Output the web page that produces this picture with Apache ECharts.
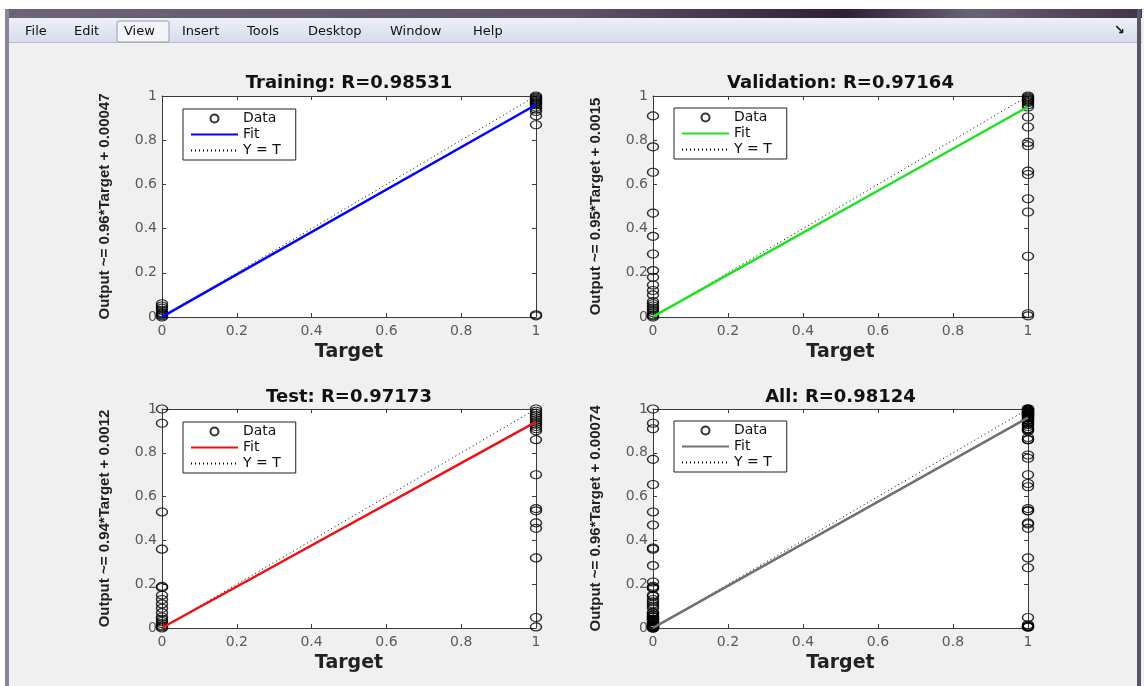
<!DOCTYPE html>
<html>
<head>
<meta charset="utf-8">
<script src="https://cdn.jsdelivr.net/npm/echarts@6/dist/echarts.min.js"></script>
<style>
html,body{margin:0;padding:0;background:#f0f0f0;}
#c{width:1144px;height:686px;}
</style>
</head>
<body>
<div id="c"></div>
<script>
// ---- data ----
const titles = ['Training: R=0.98531', 'Validation: R=0.97164', 'Test: R=0.97173', 'All: R=0.98124'];
const yNames = ['Output ~= 0.96*Target + 0.00047', 'Output ~= 0.95*Target + 0.0015', 'Output ~= 0.94*Target + 0.0012', 'Output ~= 0.96*Target + 0.00074'];
const fitColors = ['#0000ff', '#22e022', '#ee1111', '#707070'];

// outputs observed at Target = 0 and Target = 1
const trainT0 = [0, 0.005, 0.01, 0.015, 0.02, 0.03, 0.04, 0.05, 0.06];
const trainT1 = [1, 0.995, 0.99, 0.985, 0.98, 0.975, 0.97, 0.965, 0.96, 0.95, 0.94, 0.93, 0.91, 0.87, 0.01, 0.005];
const valT0 = [0.91, 0.77, 0.655, 0.47, 0.365, 0.285, 0.21, 0.18, 0.145, 0.12, 0.1, 0.07, 0.06, 0.05, 0.04, 0.03, 0.02, 0.01, 0.005, 0];
const valT1 = [1, 0.995, 0.99, 0.985, 0.98, 0.975, 0.97, 0.96, 0.95, 0.905, 0.86, 0.79, 0.775, 0.66, 0.645, 0.535, 0.475, 0.275, 0.015, 0.005];
const testT0 = [1, 0.935, 0.53, 0.36, 0.19, 0.185, 0.15, 0.13, 0.11, 0.09, 0.07, 0.05, 0.04, 0.03, 0.02, 0.01, 0.005, 0];
const testT1 = [1, 0.99, 0.98, 0.97, 0.96, 0.95, 0.94, 0.93, 0.92, 0.91, 0.9, 0.86, 0.7, 0.545, 0.535, 0.48, 0.455, 0.32, 0.048, 0.005];
const allT0 = trainT0.concat(valT0, testT0);
const allT1 = trainT1.concat(valT1, testT1);

// fit line outputs at Target = 0 and Target = 1
const fitTargets = [0, 1];
const trainFit = [0.00047, 0.96047];
const valFit = [0.0015, 0.9515];
const testFit = [0.0012, 0.9412];
const allFit = [0.00074, 0.96074];
const identity = [0, 1];

const tickValues = ['0', '0.2', '0.4', '0.6', '0.8', '1'];

const sets = [
  {t0: trainT0, t1: trainT1, fit: trainFit},
  {t0: valT0, t1: valT1, fit: valFit},
  {t0: testT0, t1: testT1, fit: testFit},
  {t0: allT0, t1: allT1, fit: allFit}
];

// ---- layout ----
const grids = [
  {left: 162, top: 96, width: 374, height: 221},
  {left: 653, top: 96, width: 375, height: 221},
  {left: 162, top: 409, width: 374, height: 219},
  {left: 653, top: 409, width: 375, height: 219}
];
const legendPos = [
  {left: 183, top: 109}, {left: 674, top: 108}, {left: 183, top: 422}, {left: 674, top: 421}
];
const titleOffset = [22, 22, 21, 21];

const axisLine = {show: true, onZero: false, lineStyle: {color: '#3a3a3a', width: 1}};
const tick = {show: true, inside: true, length: 4, lineStyle: {color: '#3a3a3a'}};
const lblStyle = {color: '#5a5a5a', fontFamily: 'DejaVu Sans', fontSize: 14};
const hidden = {opacity: 0};

const xAxes = [], yAxes = [], series = [], legends = [], titleOpts = [];
grids.forEach((g, i) => {
  xAxes.push({gridIndex: i, type: 'value', min: 0, max: 1, interval: 0.2, position: 'bottom',
    axisLine, axisTick: tick, splitLine: {show: false},
    axisLabel: Object.assign({margin: 7, formatter: v => tickValues[Math.round(v * 5)]}, lblStyle),
    name: 'Target', nameLocation: 'middle', nameGap: 26,
    nameTextStyle: {fontFamily: 'DejaVu Sans', fontWeight: 'bold', fontSize: 19, color: '#222'}});
  xAxes.push({gridIndex: i, type: 'value', min: 0, max: 1, interval: 0.2, position: 'top',
    axisLine, axisTick: tick, axisLabel: {show: false}, splitLine: {show: false}});
  yAxes.push({gridIndex: i, type: 'value', min: 0, max: 1, interval: 0.2, position: 'left',
    axisLine, axisTick: tick, splitLine: {show: false},
    axisLabel: Object.assign({margin: 5, formatter: v => tickValues[Math.round(v * 5)]}, lblStyle),
    name: yNames[i], nameLocation: 'middle', nameGap: 50,
    nameTextStyle: {fontFamily: 'Liberation Sans', fontWeight: 'bold', fontSize: 15, color: '#222'}});
  yAxes.push({gridIndex: i, type: 'value', min: 0, max: 1, interval: 0.2, position: 'right',
    axisLine, axisTick: tick, axisLabel: {show: false}, splitLine: {show: false}});

  const s = sets[i];
  const pts = s.t0.map(v => [0, v]).concat(s.t1.map(v => [1, v]));
  series.push({name: 'Data' + i, type: 'scatter', xAxisIndex: 2 * i, yAxisIndex: 2 * i,
    data: pts, symbol: 'circle', symbolSize: [11, 8], clip: false, z: 3,
    itemStyle: {color: 'rgba(0,0,0,0)', borderColor: '#000', borderWidth: 1.3}});
  series.push({name: 'Fit' + i, type: 'line', xAxisIndex: 2 * i, yAxisIndex: 2 * i,
    data: fitTargets.map((x, k) => [x, s.fit[k]]), symbol: 'none', z: 4,
    lineStyle: {color: fitColors[i], width: 2.5}, itemStyle: {color: fitColors[i]}});
  series.push({name: 'YT' + i, type: 'line', xAxisIndex: 2 * i, yAxisIndex: 2 * i,
    data: identity.map(x => [x, x]), symbol: 'none', z: 2,
    lineStyle: {color: '#000', width: 1, type: [1, 3]}, itemStyle: {color: '#000'}});

  legends.push({left: legendPos[i].left, top: legendPos[i].top, orient: 'vertical',
    data: [
      {name: 'Data' + i},
      {name: 'Fit' + i, itemStyle: hidden},
      {name: 'YT' + i, itemStyle: hidden}
    ],
    selectedMode: false,
    itemWidth: 47, itemHeight: 8, itemGap: 1,
    padding: [2, 15, 2, 7], backgroundColor: '#fff', borderColor: '#222', borderWidth: 1,
    textStyle: {fontFamily: 'DejaVu Sans', fontSize: 14, color: '#111', lineHeight: 15},
    formatter: n => n.startsWith('Data') ? 'Data' : (n.startsWith('Fit') ? 'Fit' : 'Y = T')});

  titleOpts.push({text: titles[i], left: g.left + g.width / 2, top: g.top - titleOffset[i], textAlign: 'center',
    padding: 0,
    textStyle: {fontFamily: 'DejaVu Sans', fontWeight: 'bold', fontSize: 18, color: '#111'}});
});

const menuItems = ['File', 'Edit', 'View', 'Insert', 'Tools', 'Desktop', 'Window', 'Help'];
const menuX = [25, 74, 124, 182, 247, 308, 390, 473];

const graphics = [
  {type: 'rect', shape: {x: 0, y: 0, width: 1144, height: 9}, style: {fill: '#ffffff'}, z: -10},
  {type: 'rect', shape: {x: 0, y: 0, width: 5, height: 686}, style: {fill: '#ffffff'}, z: -10},
  {type: 'rect', shape: {x: 5, y: 9, width: 1137, height: 9}, z: -9,
    style: {fill: new echarts.graphic.LinearGradient(0, 0, 1, 0, [
      {offset: 0, color: '#6d6478'}, {offset: 0.5, color: '#5d5468'}, {offset: 0.74, color: '#2a2233'},
      {offset: 0.85, color: '#6a6275'}, {offset: 1, color: '#3d3545'}])}},
  {type: 'rect', shape: {x: 5, y: 18, width: 1137, height: 24}, z: -9,
    style: {fill: new echarts.graphic.LinearGradient(0, 0, 0, 1, [
      {offset: 0, color: '#eef0f8'}, {offset: 1, color: '#d6dcee'}])}},
  {type: 'rect', shape: {x: 5, y: 42, width: 1137, height: 1}, style: {fill: '#b8bccc'}, z: -9},
  {type: 'rect', shape: {x: 5, y: 9, width: 4, height: 677}, style: {fill: '#8a8494'}, z: -8},
  {type: 'rect', shape: {x: 1137, y: 9, width: 4, height: 677}, style: {fill: '#5a5464'}, z: -8},
  {type: 'rect', shape: {x: 117, y: 21, width: 52, height: 21, r: 2}, z: -7,
    style: {fill: '#f4f5f8', stroke: '#9a9ca6', lineWidth: 1}},
  {type: 'text', x: 1114, y: 24, style: {text: '↘', fontSize: 13, fontWeight: 'bold', fill: '#111', fontFamily: 'DejaVu Sans'}}
];
menuItems.forEach((m, k) => {
  graphics.push({type: 'text', x: menuX[k], y: 32, style: {text: m, fontFamily: 'DejaVu Sans', fontSize: 13,
    fill: '#111', verticalAlign: 'middle'}});
});

const chart = echarts.init(document.getElementById('c'), null, {renderer: 'canvas'});
chart.setOption({
  backgroundColor: '#f0f0f0',
  animation: false,
  title: titleOpts,
  grid: grids.map(g => Object.assign({show: true, backgroundColor: '#fff', borderWidth: 0}, g)),
  xAxis: xAxes,
  yAxis: yAxes,
  legend: legends,
  series: series,
  graphic: graphics
});
</script>
</body>
</html>
